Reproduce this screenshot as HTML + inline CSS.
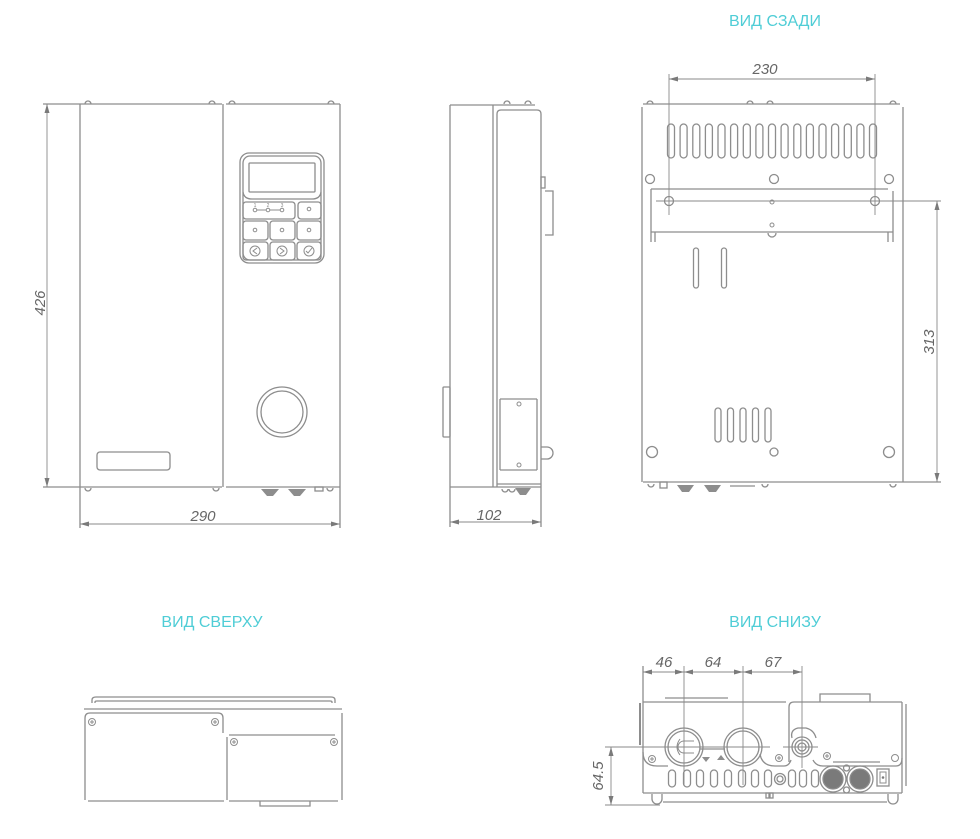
<!DOCTYPE html>
<html><head><meta charset="utf-8"><style>
html,body{margin:0;padding:0;background:#fff;}
svg{display:block;}
.t{font-family:"Liberation Sans",sans-serif;fill:#4fcdd6;font-size:16px;text-anchor:middle;}
.d{font-family:"Liberation Sans",sans-serif;fill:#666;font-size:15px;font-style:italic;text-anchor:middle;}
</style></head><body>
<svg width="980" height="839" viewBox="0 0 980 839" xmlns="http://www.w3.org/2000/svg">
<g fill="none" stroke="#8d8d8d" stroke-width="1.3">

<!-- ================= FRONT VIEW ================= -->
<line x1="43" y1="104" x2="222" y2="104"/>
<line x1="226" y1="104" x2="340" y2="104"/>
<line x1="80" y1="104" x2="80" y2="528"/>
<line x1="223" y1="104" x2="223" y2="487"/>
<line x1="340" y1="104" x2="340" y2="528"/>
<line x1="43" y1="487" x2="222" y2="487"/>
<line x1="226" y1="487" x2="340" y2="487"/>
<!-- top tabs -->
<path d="M85,104 a3,3 0 0 1 6,0 M209,104 a3,3 0 0 1 6,0 M229,104 a3,3 0 0 1 6,0 M328,104 a3,3 0 0 1 6,0"/>
<!-- bottom tabs -->
<path d="M85,488 a3,3 0 0 0 6,0 M213,488 a3,3 0 0 0 6,0 M327,488 a3,3 0 0 0 6,0"/>
<rect x="315" y="487" width="8" height="4"/>
<!-- slot -->
<rect x="97" y="452" width="73" height="18" rx="3"/>
<!-- knob -->
<circle cx="282" cy="412" r="25"/>
<circle cx="282" cy="412" r="21"/>
<!-- control panel -->
<rect x="240" y="153" width="84" height="110" rx="9"/>
<rect x="243" y="156" width="78" height="104" rx="7"/>
<path d="M243,192 Q244,199 252,199 L312,199 Q320,199 321,192"/>
<rect x="249" y="163" width="66" height="29" rx="1"/>
<rect x="243" y="202" width="52" height="17" rx="3"/>
<rect x="298" y="202" width="23" height="17" rx="3"/>
<rect x="243" y="221" width="25" height="19" rx="3"/>
<rect x="270" y="221" width="25" height="19" rx="3"/>
<rect x="297" y="221" width="24" height="19" rx="3"/>
<rect x="243" y="242" width="25" height="18" rx="3"/>
<rect x="270" y="242" width="25" height="18" rx="3"/>
<rect x="297" y="242" width="24" height="18" rx="3"/>
<g stroke-width="1">
<line x1="255" y1="210" x2="282" y2="210"/>
<circle cx="255" cy="210" r="1.8" fill="#fff"/>
<circle cx="268" cy="210" r="1.8" fill="#fff"/>
<circle cx="282" cy="210" r="1.8" fill="#fff"/>
<circle cx="309" cy="209" r="1.8"/>
<circle cx="255" cy="230" r="1.8"/>
<circle cx="282" cy="230" r="1.8"/>
<circle cx="309" cy="230" r="1.8"/>
<circle cx="255" cy="251" r="5"/>
<circle cx="282" cy="251" r="5"/>
<circle cx="309" cy="251" r="5"/>
<path d="M257,248 L253,251 L257,254 M280,248 L284,251 L280,254 M306,251 L308,253 L312,248"/>
</g>

<!-- ================= SIDE VIEW ================= -->
<line x1="450" y1="105" x2="535" y2="105"/>
<line x1="450" y1="105" x2="450" y2="527"/>
<line x1="493" y1="105" x2="493" y2="487"/>
<path d="M497,487 L497,114 Q497,110 501,110 L537,110 Q541,110 541,114 L541,527"/>
<line x1="450" y1="487" x2="541" y2="487"/>
<line x1="497" y1="484" x2="541" y2="484"/>
<path d="M504,104 a3,3 0 0 1 6,0 M525,104 a3,3 0 0 1 6,0"/>
<rect x="541" y="177" width="4" height="11"/>
<path d="M545,191 L553,191 L553,235 L545,235"/>
<rect x="443" y="387" width="7" height="50" rx="1"/>
<line x1="500" y1="399" x2="537" y2="399"/>
<line x1="500" y1="399" x2="500" y2="470"/>
<line x1="537" y1="399" x2="537" y2="470"/>
<line x1="500" y1="470" x2="537" y2="470"/>
<circle cx="519" cy="404" r="2" stroke-width="1"/>
<circle cx="519" cy="465" r="2" stroke-width="1"/>
<path d="M541,447 L547,447 A6,6 0 0 1 547,459 L541,459"/>
<path d="M502,489 a3,3 0 0 0 6,0 M509,489 a3,3 0 0 0 6,0"/>

<!-- ================= BACK VIEW ================= -->
<line x1="643" y1="104" x2="900" y2="104"/>
<line x1="642" y1="107" x2="642" y2="482"/>
<line x1="903" y1="107" x2="903" y2="482"/>
<line x1="643" y1="482" x2="941" y2="482"/>
<path d="M647,104 a3,3 0 0 1 6,0 M747,104 a3,3 0 0 1 6,0 M767,104 a3,3 0 0 1 6,0 M890,104 a3,3 0 0 1 6,0"/>
<!-- top slots -->
<g>
<rect x="667.5" y="124" width="7" height="34" rx="3.5"/>
<rect x="680.1" y="124" width="7" height="34" rx="3.5"/>
<rect x="692.8" y="124" width="7" height="34" rx="3.5"/>
<rect x="705.4" y="124" width="7" height="34" rx="3.5"/>
<rect x="718" y="124" width="7" height="34" rx="3.5"/>
<rect x="730.6" y="124" width="7" height="34" rx="3.5"/>
<rect x="743.3" y="124" width="7" height="34" rx="3.5"/>
<rect x="755.9" y="124" width="7" height="34" rx="3.5"/>
<rect x="768.5" y="124" width="7" height="34" rx="3.5"/>
<rect x="781.1" y="124" width="7" height="34" rx="3.5"/>
<rect x="793.8" y="124" width="7" height="34" rx="3.5"/>
<rect x="806.4" y="124" width="7" height="34" rx="3.5"/>
<rect x="819" y="124" width="7" height="34" rx="3.5"/>
<rect x="831.6" y="124" width="7" height="34" rx="3.5"/>
<rect x="844.3" y="124" width="7" height="34" rx="3.5"/>
<rect x="856.9" y="124" width="7" height="34" rx="3.5"/>
<rect x="869.5" y="124" width="7" height="34" rx="3.5"/>
</g>
<circle cx="650" cy="179" r="4.5"/>
<circle cx="774" cy="179" r="4.5"/>
<circle cx="889" cy="179" r="4.5"/>
<!-- bracket -->
<line x1="651" y1="189" x2="888" y2="189"/>
<line x1="651" y1="189" x2="651" y2="242"/>
<line x1="655" y1="232" x2="655" y2="242"/>
<line x1="893" y1="191" x2="893" y2="242"/>
<line x1="888" y1="232" x2="888" y2="242"/>
<line x1="651" y1="232" x2="893" y2="232"/>
<circle cx="669" cy="201" r="4.5"/>
<circle cx="875" cy="201" r="4.5"/>
<circle cx="772" cy="202" r="2" stroke-width="1"/>
<circle cx="772" cy="225" r="2" stroke-width="1"/>
<path d="M768,233 A4,4 0 1 0 776,233"/>
<rect x="693.5" y="248" width="5" height="40" rx="2.5"/>
<rect x="721.5" y="248" width="5" height="40" rx="2.5"/>
<rect x="715" y="408" width="6" height="34" rx="3"/>
<rect x="727.5" y="408" width="6" height="34" rx="3"/>
<rect x="740" y="408" width="6" height="34" rx="3"/>
<rect x="752.5" y="408" width="6" height="34" rx="3"/>
<rect x="765" y="408" width="6" height="34" rx="3"/>
<circle cx="652" cy="452" r="5.5"/>
<circle cx="774" cy="452" r="4"/>
<circle cx="889" cy="452" r="5.5"/>
<!-- below back -->
<path d="M648,484 a3,3 0 0 0 6,0 M762,484 a3,3 0 0 0 6,0 M890,484 a3,3 0 0 0 6,0"/>
<rect x="660" y="482" width="7" height="6"/>
<line x1="730" y1="486" x2="755" y2="486"/>

<!-- ================= TOP VIEW ================= -->
<path d="M92,703 L92,700 Q92,697 96,697 L331,697 Q335,697 335,700 L335,703"/>
<path d="M95,703 L95,702 Q95,701 97,701 L330,701 Q332,701 332,702 L332,703"/>
<line x1="84" y1="709" x2="342" y2="709"/>
<path d="M85,800 L85,718 Q85,713 90,713 L218,713 Q223,713 223,718 L223,733"/>
<line x1="227" y1="737" x2="227" y2="800"/>
<line x1="229" y1="735" x2="335" y2="735"/>
<line x1="342" y1="713" x2="342" y2="800"/>
<line x1="88" y1="801" x2="224" y2="801"/>
<line x1="229" y1="801" x2="338" y2="801"/>
<path d="M260,801 L260,806 L310,806 L310,801"/>
<g stroke-width="1">
<circle cx="92" cy="722" r="3.5"/><path d="M90,722 h4 M92,720 v4"/>
<circle cx="215" cy="722" r="3.5"/><path d="M213,722 h4 M215,720 v4"/>
<circle cx="234" cy="742" r="3.5"/><path d="M232,742 h4 M234,740 v4"/>
<circle cx="334" cy="742" r="3.5"/><path d="M332,742 h4 M334,740 v4"/>
</g>

<!-- ================= BOTTOM VIEW ================= -->
<line x1="643" y1="702" x2="786" y2="702"/>
<path d="M789,762 L789,707 Q789,702 794,702 L902,702"/>
<line x1="643" y1="666" x2="643" y2="793"/>
<line x1="640" y1="703" x2="640" y2="745" stroke-width="2"/>
<line x1="902" y1="702" x2="902" y2="793"/>
<line x1="906" y1="704" x2="906" y2="786"/>
<line x1="643" y1="793" x2="902" y2="793"/>
<line x1="663" y1="802" x2="887" y2="802"/>
<path d="M652,794 L652,799 A5,5 0 0 0 662,799 L662,794 M888,794 L888,799 A5,5 0 0 0 898,799 L898,794"/>
<rect x="766" y="793" width="3" height="5"/>
<rect x="770" y="793" width="3" height="5"/>
<line x1="665" y1="698" x2="728" y2="698"/>
<path d="M820,702 L820,694 L870,694 L870,702"/>
<!-- plate contour -->
<path d="M643,752 Q643,766 657,766 L668,766"/>
<path d="M760,754 Q762,766 775,766 L784,766 Q789,766 791,760"/>
<path d="M813,760 Q816,766 823,766 L896,766 Q902,766 902,758"/>
<path d="M792,738 Q790,730 798,728 L806,728 Q814,730 816,738"/>
<line x1="700" y1="749" x2="725" y2="749"/>
<!-- fittings -->
<circle cx="684" cy="747" r="19"/>
<circle cx="684" cy="747" r="16"/>
<path d="M680,739 Q674,747 680,755 M684,741 L694,741 M684,753 L694,753 M684,741 A6,6 0 0 0 684,753" stroke-width="1"/>
<circle cx="743" cy="747" r="19"/>
<circle cx="743" cy="747" r="16"/>
<circle cx="802" cy="747" r="10"/>
<circle cx="802" cy="747" r="7"/>
<circle cx="802" cy="747" r="4"/>
<!-- slots row -->
<rect x="668.5" y="770" width="7" height="17" rx="3.5"/>
<rect x="683.5" y="770" width="7" height="17" rx="3.5"/>
<rect x="696.5" y="770" width="7" height="17" rx="3.5"/>
<rect x="710.5" y="770" width="7" height="17" rx="3.5"/>
<rect x="724.5" y="770" width="7" height="17" rx="3.5"/>
<rect x="738.5" y="770" width="7" height="17" rx="3.5"/>
<rect x="751.5" y="770" width="7" height="17" rx="3.5"/>
<rect x="764.5" y="770" width="7" height="17" rx="3.5"/>
<circle cx="780" cy="779" r="5.5"/>
<circle cx="780" cy="779" r="3"/>
<rect x="788.5" y="770" width="7" height="17" rx="3.5"/>
<rect x="799.5" y="770" width="7" height="17" rx="3.5"/>
<rect x="811.5" y="770" width="7" height="17" rx="3.5"/>
<circle cx="833" cy="779" r="13"/>
<circle cx="833" cy="779" r="10" fill="#7a7a7a"/>
<circle cx="860" cy="779" r="13"/>
<circle cx="860" cy="779" r="10" fill="#7a7a7a"/>
<circle cx="846.5" cy="768" r="3"/>
<circle cx="846.5" cy="790" r="3"/>
<line x1="833" y1="762" x2="880" y2="762"/>
<rect x="877" y="769" width="12" height="17"/>
<rect x="880" y="772" width="6" height="11" stroke-width="1"/>
<circle cx="883" cy="777.5" r="1.3" fill="#7a7a7a" stroke="none"/>
<g stroke-width="1">
<circle cx="652" cy="759" r="3.5"/><path d="M650,759 h4 M652,757 v4"/>
<circle cx="779" cy="758" r="3.5"/><path d="M777,758 h4 M779,756 v4"/>
<circle cx="827" cy="756" r="3.5"/><path d="M825,756 h4 M827,754 v4"/>
<circle cx="895" cy="758" r="3.5"/>
</g>
<polygon points="702,757 710,757 706,762" fill="#8d8d8d" stroke="none"/>
<polygon points="717,760 725,760 721,755" fill="#8d8d8d" stroke="none"/>
</g>

<!-- filled triangles (fittings on front/side/back) -->
<g fill="#8d8d8d">
<polygon points="261,489 279,489 273,496 267,496"/>
<polygon points="288,489 306,489 300,496 294,496"/>
<polygon points="515,488 531,488 526,495 520,495"/>
<polygon points="677,485 694,485 689,492 682,492"/>
<polygon points="704,485 721,485 716,492 709,492"/>
</g>

<!-- ================= DIMENSIONS ================= -->
<g fill="none" stroke="#8a8a8a" stroke-width="0.9">
<line x1="47" y1="104" x2="47" y2="487"/>
<line x1="80" y1="524" x2="340" y2="524"/>
<line x1="450" y1="522" x2="541" y2="522"/>
<line x1="669" y1="79" x2="875" y2="79"/>
<line x1="669" y1="74" x2="669" y2="215"/>
<line x1="875" y1="74" x2="875" y2="215"/>
<line x1="656" y1="201" x2="941" y2="201"/>
<line x1="937" y1="201" x2="937" y2="482"/>
<line x1="643" y1="672" x2="802" y2="672"/>
<line x1="684" y1="666" x2="684" y2="785"/>
<line x1="743" y1="666" x2="743" y2="785"/>
<line x1="802" y1="666" x2="802" y2="768"/>
<line x1="605" y1="747" x2="770" y2="747"/>
<line x1="783" y1="747" x2="818" y2="747"/>
<line x1="605" y1="805" x2="660" y2="805"/>
<line x1="611" y1="747" x2="611" y2="805"/>
</g>
<g fill="#7a7a7a">
<polygon points="47,104 44.5,113 49.5,113"/>
<polygon points="47,487 44.5,478 49.5,478"/>
<polygon points="80,524 89,521.5 89,526.5"/>
<polygon points="340,524 331,521.5 331,526.5"/>
<polygon points="450,522 459,519.5 459,524.5"/>
<polygon points="541,522 532,519.5 532,524.5"/>
<polygon points="669,79 678,76.5 678,81.5"/>
<polygon points="875,79 866,76.5 866,81.5"/>
<polygon points="937,201 934.5,210 939.5,210"/>
<polygon points="937,482 934.5,473 939.5,473"/>
<polygon points="643,672 652,669.5 652,674.5"/>
<polygon points="684,672 675,669.5 675,674.5"/>
<polygon points="684,672 693,669.5 693,674.5"/>
<polygon points="743,672 734,669.5 734,674.5"/>
<polygon points="743,672 752,669.5 752,674.5"/>
<polygon points="802,672 793,669.5 793,674.5"/>
<polygon points="611,747 608.5,756 613.5,756"/>
<polygon points="611,805 608.5,796 613.5,796"/>
</g>

<!-- tiny panel labels -->
<g font-family="Liberation Sans, sans-serif" font-size="5" fill="#888" text-anchor="middle">
<text x="255" y="207">1</text><text x="268" y="207">2</text><text x="282" y="207">3</text>
</g>

<!-- texts -->
<text class="t" x="775" y="26">ВИД СЗАДИ</text>
<text class="t" x="212" y="627">ВИД СВЕРХУ</text>
<text class="t" x="775" y="627">ВИД СНИЗУ</text>
<text class="d" x="765" y="74">230</text>
<text class="d" x="203" y="521">290</text>
<text class="d" x="489" y="520">102</text>
<text class="d" x="664" y="667">46</text>
<text class="d" x="713" y="667">64</text>
<text class="d" x="773" y="667">67</text>
<text class="d" transform="translate(45,303) rotate(-90)">426</text>
<text class="d" transform="translate(934,342) rotate(-90)" font-style="normal">313</text>
<text class="d" transform="translate(603,776) rotate(-90)" font-style="normal">64.5</text>
</svg>
</body></html>
